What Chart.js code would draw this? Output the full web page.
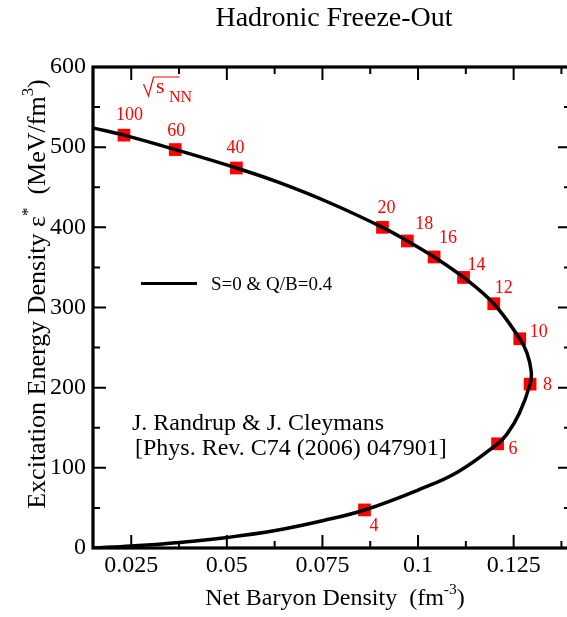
<!DOCTYPE html>
<html>
<head>
<meta charset="utf-8">
<script src="https://cdn.jsdelivr.net/npm/chart.js@4.4.1/dist/chart.umd.min.js"></script>
<style>
  html, body { margin: 0; padding: 0; overflow: hidden; background: #fff; }
  #wrap { width: 580px; height: 617px; }
</style>
</head>
<body>
<div id="wrap"><canvas id="chart" width="580" height="617"></canvas></div>
<script>
// freeze-out curve (S=0 & Q/B=0.4)
var curveX = [0.015, 0.0231, 0.0365, 0.0525, 0.0636, 0.0767, 0.0907, 0.0972, 0.1042, 0.1119, 0.1198,
              0.1266, 0.1285, 0.1296, 0.1293, 0.1265, 0.1234, 0.1208, 0.1104, 0.1, 0.086,
              0.0753, 0.0627, 0.0501, 0.0376, 0.025, 0.015];
var curveY = [524, 515, 497, 474, 456, 431, 400, 383, 363, 337.5, 304.7,
              261, 243, 220, 204.4, 168, 143, 130, 94.8, 72.3, 47.4,
              34.3, 21.8, 13.1, 6.9, 2.5, 0];

// beam energies sqrt(s_NN) on the curve
var energyLabels = ['100', '60', '40', '20', '18', '16', '14', '12', '10', '8', '6', '4'];
var energyX = [0.0231, 0.0365, 0.0525, 0.0907, 0.0972, 0.1042, 0.1119, 0.1198, 0.1266, 0.1293, 0.1208, 0.086];
var energyY = [515, 497, 474, 400, 383, 363, 337.5, 304.7, 261, 204.4, 130, 47.5];
// label offset from its marker, in pixels
var labelDx = [-8, -8, -10, -5, 8, 5, 4, 1, 10, 13, 11, 5];
var labelDy = [-15, -14, -15, -14, -12, -14, -7, -11, -2, 6, 10, 21];

var xTicks = [0.025, 0.05, 0.075, 0.1, 0.125];
var xMinor = [0.0375, 0.0625, 0.0875, 0.1125, 0.1375];
var yTicks = [0, 100, 200, 300, 400, 500, 600];
var yMinor = [50, 150, 250, 350, 450, 550];

var SERIF = '"Liberation Serif", "DejaVu Serif", serif';

function pts(xs, ys) {
  return xs.map(function (x, i) { return { x: x, y: ys[i] }; });
}

function drawRich(ctx, parts, x, y, size, align) {
  var total = 0;
  parts.forEach(function (p) {
    ctx.font = (p.sup ? size * 0.65 : size) + 'px ' + SERIF;
    p.w = ctx.measureText(p.t).width;
    total += p.w;
  });
  var cx = align === 'center' ? x - total / 2 : x;
  parts.forEach(function (p) {
    ctx.font = (p.sup ? size * 0.65 : size) + 'px ' + SERIF;
    ctx.fillText(p.t, cx, p.sup ? y - size * 0.45 : y);
    cx += p.w;
  });
}

var decor = {
  id: 'decor',
  afterDatasetsDraw: function (chart) {
    var ctx = chart.ctx, a = chart.chartArea;
    var xs = chart.scales.x, ys = chart.scales.y;
    ctx.save();
    ctx.strokeStyle = '#000';
    ctx.fillStyle = '#000';
    ctx.textAlign = 'left';
    ctx.textBaseline = 'alphabetic';

    // ticks, pointing inward on all four sides
    ctx.lineWidth = 2;
    function xt(v, len) {
      var px = xs.getPixelForValue(v);
      ctx.beginPath();
      ctx.moveTo(px, a.bottom); ctx.lineTo(px, a.bottom - len);
      ctx.moveTo(px, a.top); ctx.lineTo(px, a.top + len);
      ctx.stroke();
    }
    function yt(v, len) {
      var py = ys.getPixelForValue(v);
      ctx.beginPath();
      ctx.moveTo(a.left, py); ctx.lineTo(a.left + len, py);
      ctx.moveTo(a.right, py); ctx.lineTo(a.right - len, py);
      ctx.stroke();
    }
    xTicks.forEach(function (v) { xt(v, 13); });
    xMinor.forEach(function (v) { xt(v, 7); });
    yTicks.forEach(function (v) { yt(v, 13); });
    yMinor.forEach(function (v) { yt(v, 7); });

    // frame
    ctx.lineWidth = 3.2;
    ctx.strokeRect(a.left, a.top, a.right - a.left, a.bottom - a.top);

    // title
    ctx.font = '28px ' + SERIF;
    ctx.textAlign = 'center';
    ctx.fillText('Hadronic Freeze-Out', 334, 26);

    // axis titles
    ctx.textAlign = 'left';
    drawRich(ctx, [{ t: 'Net Baryon Density  (fm' }, { t: '-3', sup: 1 }, { t: ')' }], 335, 605, 24, 'center');
    ctx.save();
    ctx.translate(45, 294);
    ctx.rotate(-Math.PI / 2);
    drawRich(ctx, [{ t: 'Excitation Energy Density \u03b5' }, { t: '*', sup: 1 }, { t: '  (MeV/fm' },
                   { t: '3', sup: 1 }, { t: ')' }], 0, 0, 26, 'center');
    ctx.restore();

    // legend
    ctx.lineWidth = 3;
    ctx.beginPath();
    ctx.moveTo(141, 283.5); ctx.lineTo(197, 283.5);
    ctx.stroke();
    ctx.font = '19px ' + SERIF;
    ctx.fillText('S=0 & Q/B=0.4', 211, 290);

    // reference
    ctx.font = '24px ' + SERIF;
    ctx.fillText('J. Randrup & J. Cleymans', 132, 430);
    ctx.fillText('[Phys. Rev. C74 (2006) 047901]', 135, 455);

    // energy labels
    ctx.fillStyle = '#ff0000';
    ctx.strokeStyle = '#ff0000';
    ctx.font = '18px ' + SERIF;
    energyLabels.forEach(function (t, i) {
      var px = xs.getPixelForValue(energyX[i]) + labelDx[i];
      var py = ys.getPixelForValue(energyY[i]) + labelDy[i];
      ctx.fillText(t, px, py);
    });

    // sqrt(s_NN)
    ctx.lineWidth = 1.2;
    ctx.beginPath();
    ctx.moveTo(143.5, 84); ctx.lineTo(148.5, 96); ctx.lineTo(153.5, 77); ctx.lineTo(179.5, 77);
    ctx.stroke();
    ctx.font = '22px ' + SERIF;
    ctx.fillText('s', 156, 93);
    ctx.font = '16px ' + SERIF;
    ctx.fillText('NN', 169, 102);
    ctx.restore();
  }
};

new Chart(document.getElementById('chart'), {
  type: 'scatter',
  data: {
    datasets: [{
      label: 'S=0 & Q/B=0.4',
      data: pts(curveX, curveY),
      showLine: true,
      borderColor: '#000',
      borderWidth: 3.5,
      pointRadius: 0,
      tension: 0.4
    }, {
      label: 'sqrt(s_NN)',
      data: pts(energyX, energyY),
      showLine: false,
      pointStyle: 'rect',
      pointRadius: 9,
      backgroundColor: '#ff0000',
      borderWidth: 0
    }]
  },
  options: {
    responsive: false,
    animation: false,
    devicePixelRatio: 1,
    layout: { padding: { top: 67, right: 6.5, left: 0, bottom: 0 } },
    plugins: { legend: { display: false }, tooltip: { enabled: false } },
    scales: {
      x: {
        type: 'linear',
        min: 0.015,
        max: 0.14,
        grid: { display: false },
        border: { display: false },
        afterBuildTicks: function (s) { s.ticks = xTicks.map(function (v) { return { value: v }; }); },
        afterFit: function (s) { s.height = 69; },
        ticks: {
          padding: -5,
          color: '#000',
          font: { family: SERIF, size: 24 },
          callback: function (v) { return String(+v.toFixed(4)); }
        }
      },
      y: {
        min: 0,
        max: 600,
        grid: { display: false },
        border: { display: false },
        afterBuildTicks: function (s) { s.ticks = yTicks.map(function (v) { return { value: v }; }); },
        afterFit: function (s) { s.width = 93; },
        ticks: {
          padding: -1,
          color: '#000',
          font: { family: SERIF, size: 24 }
        }
      }
    }
  },
  plugins: [decor]
});
</script>
</body>
</html>
